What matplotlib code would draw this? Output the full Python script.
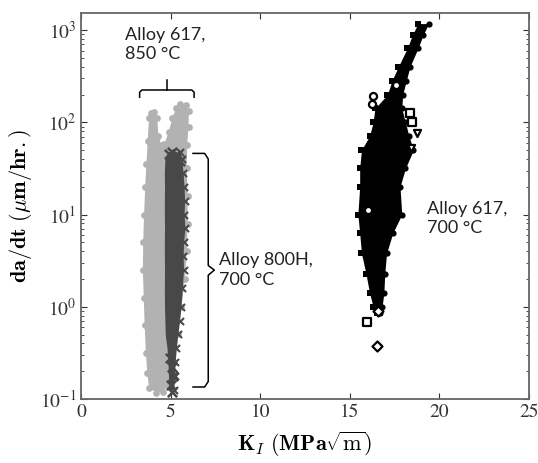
import numpy as np
import matplotlib
matplotlib.use('Agg')
import matplotlib.pyplot as plt

plt.rcParams['font.family'] = 'STIXGeneral'
plt.rcParams['mathtext.fontset'] = 'stix'
plt.rcParams['axes.unicode_minus'] = False

# Alloy 617, 850 C  -> outline of the light grey cloud (K, log10 da/dt)
k617_850 = [3.80, 3.70, 3.62, 3.55, 3.50, 3.45, 3.47, 3.52, 3.58, 3.65, 3.72, 3.80, 3.90, 4.10, 4.25,
            4.32, 4.50, 4.65, 4.90, 5.10, 5.30, 5.55, 5.85, 6.02, 6.00, 5.92, 5.90, 5.95, 5.95, 5.90,
            5.80, 5.60, 5.40, 5.20, 4.90, 4.60, 4.20]
log617_850 = [-0.88, -0.72, -0.50, -0.20, 0.10, 0.40, 0.70, 1.00, 1.30, 1.55, 1.80, 2.05, 2.10, 2.11, 2.05,
              1.85, 1.75, 1.76, 1.90, 2.05, 2.15, 2.20, 2.19, 2.12, 1.95, 1.75, 1.50, 1.20, 0.90, 0.60,
              0.30, 0.00, -0.30, -0.60, -0.85, -0.92, -0.93]

# Alloy 800H, 700 C -> band of the dark grey cloud
log800 = [1.68, 1.60, 1.45, 1.30, 1.15, 1.00, 0.85, 0.70, 0.55, 0.40, 0.20, 0.00, -0.15, -0.30, -0.45, -0.60, -0.75, -0.90]
k800_lo = [4.85, 4.68, 4.65, 4.66, 4.65, 4.65, 4.66, 4.65, 4.65, 4.66, 4.65, 4.66, 4.68, 4.70, 4.80, 4.85, 4.88, 4.92]
k800_hi = [5.55, 5.62, 5.70, 5.75, 5.78, 5.75, 5.80, 5.72, 5.70, 5.72, 5.65, 5.58, 5.50, 5.40, 5.32, 5.25, 5.22, 5.18]
x800_k = [4.90, 5.05, 5.20, 5.35, 5.50, 5.10, 5.30, 4.95, 5.05, 5.15, 5.00, 5.10]
x800_log = [1.66, 1.68, 1.62, 1.65, 1.58, 1.50, 1.45, -0.55, -0.65, -0.75, -0.85, -0.92]

# Alloy 617, 700 C -> band of the black cloud
log617_700 = [3.07, 2.95, 2.80, 2.60, 2.45, 2.30, 2.15, 2.00, 1.85, 1.70, 1.50, 1.30, 1.00, 0.80, 0.58, 0.36, 0.15, 0.00, -0.07]
k617_lo = [18.80, 18.50, 18.20, 17.70, 17.35, 17.10, 16.40, 16.30, 16.10, 15.65, 15.55, 15.55, 15.45, 15.55, 15.65, 15.90, 16.10, 16.30, 16.50]
k617_hi = [19.40, 19.10, 18.80, 18.35, 18.15, 17.95, 17.90, 18.10, 18.30, 18.55, 18.10, 17.80, 17.90, 17.40, 17.05, 16.95, 16.90, 16.80, 16.70]
# loose points of the same cloud
out_k = [16.30, 16.25, 18.35, 18.45, 18.75, 18.40, 15.94, 16.50, 16.60, 17.60, 16.00]
out_log = [2.29, 2.20, 2.10, 2.00, 1.88, 1.72, -0.16, -0.43, -0.05, 2.40, 1.05]
out_m = ['o', 'o', 's', 's', 'v', 'v', 's', 'D', 'D', 'o', 'o']

fig = plt.figure(figsize=(5.38, 4.63), dpi=100)
ax = fig.add_axes([0.1506, 0.1382, 0.8327, 0.8337])
ax.set_yscale('log')

light = '#b2b2b2'
dark = '#484848'

y850 = 10 ** np.array(log617_850)
ax.fill(k617_850, y850, color=light, lw=0, zorder=2)
ax.scatter(k617_850, y850, s=24, color=light, zorder=2, lw=0)

y800 = 10 ** np.array(log800)
ax.fill_betweenx(y800, k800_lo, k800_hi, color=dark, lw=0, zorder=3)
ax.scatter(k800_hi, y800, s=26, marker='x', color=dark, lw=1.5, zorder=3)
ax.scatter(x800_k, 10 ** np.array(x800_log), s=45, marker='x', color=dark, lw=1.8, zorder=3)

y700 = 10 ** np.array(log617_700)
ax.fill_betweenx(y700, k617_lo, k617_hi, color='black', lw=0, zorder=3)
ax.scatter(k617_lo, y700, s=16, marker='s', color='black', lw=0, zorder=3)
ax.scatter(k617_hi, y700, s=20, marker='o', color='black', lw=0, zorder=3)
for k, lg, m in zip(out_k, out_log, out_m):
    ax.scatter(k, 10 ** lg, s=26, marker=m, facecolors='white', edgecolors='black', lw=1.6, zorder=4)

# braces
ax.plot([3.27, 3.27, 3.40, 6.18, 6.31, 6.31], [187, 212, 224, 224, 212, 187], color='black', lw=1.1, clip_on=False, zorder=5)
ax.plot([4.79, 4.79], [224, 290], color='black', lw=1.1, zorder=5)
ax.plot([6.25, 6.90, 7.10, 7.10, 7.44, 7.10, 7.10, 6.90, 6.25],
        [46, 46, 40, 2.8, 2.5, 2.2, 0.155, 0.135, 0.135], color='black', lw=1.1, zorder=5)

tf = dict(family='Lato', fontsize=13, color='#222222', linespacing=1.25)
ax.text(2.45, 10 ** 2.84, 'Alloy 617,\n850 °C', ha='left', va='center', **tf)
ax.text(7.7, 10 ** 0.40, 'Alloy 800H,\n700 °C', ha='left', va='center', **tf)
ax.text(19.3, 10 ** 0.96, 'Alloy 617,\n700 °C', ha='left', va='center', **tf)

ax.set_xlim(0, 25)
ax.set_ylim(0.1, 1530)
ax.set_xticks([0, 5, 10, 15, 20, 25])
ax.tick_params(which='both', direction='in', top=True, right=True, labelsize=14, colors='#333333')
ax.tick_params(which='major', length=4)
ax.tick_params(which='minor', length=2)
for s in ax.spines.values():
    s.set_color('#666666')
    s.set_linewidth(1.3)

ax.set_xlabel(r'$\mathbf{K}_{I}\ \mathbf{(MPa}\sqrt{\mathrm{m}}\mathbf{)}$', fontsize=16, math_fontfamily='cm', labelpad=6)
ax.set_ylabel(r'$\mathbf{da/dt\ (}\mu\mathbf{m/hr.)}$', fontsize=16, math_fontfamily='cm', labelpad=4)

fig.savefig('out.png', dpi=100)
